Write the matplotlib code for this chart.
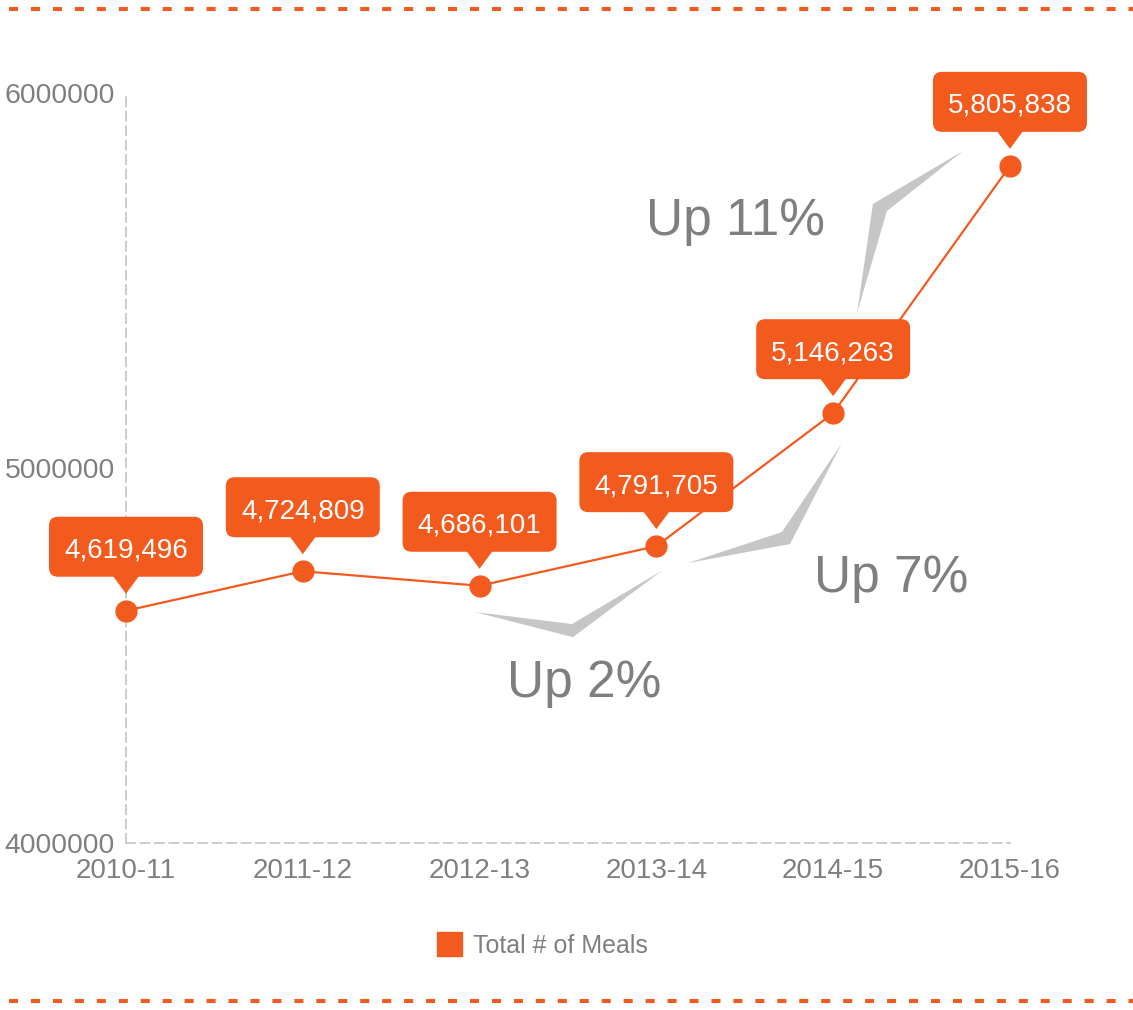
import numpy as np
import matplotlib.pyplot as plt
import matplotlib.transforms as mtransforms
from matplotlib.patches import FancyBboxPatch, Polygon, Patch
from matplotlib.lines import Line2D

plt.rcParams['font.family'] = ['Liberation Sans', 'DejaVu Sans']

years = ['2010-11', '2011-12', '2012-13', '2013-14', '2014-15', '2015-16']
meals = [4619496, 4724809, 4686101, 4791705, 5146263, 5805838]
y_ticks = [4000000, 5000000, 6000000]

# growth notes: text, where the text sits (x, y), outline of the grey wedge
note_text = ['Up 2%', 'Up 7%', 'Up 11%']
note_pos = [(2.59, 4389000), (4.33, 4669000), (3.45, 5621000)]
note_wedge = [
    [(1.974, 4616000), (2.528, 4549000), (3.037, 4728000), (2.523, 4584000)],
    [(3.179, 4746700), (3.756, 4797300), (4.050, 5066700), (3.710, 4829300)],
    [(4.135, 5413300), (4.225, 5704000), (4.734, 5845300), (4.304, 5685300)],
]

orange = '#F35A1E'
grey_txt = '#7f7f7f'
grey_line = '#c8c8c8'
grey_wedge = '#c6c6c6'

fig = plt.figure(figsize=(11.33, 10.10), dpi=100)
ax = fig.add_axes([0.1112, 0.1653, 0.7802, 0.7426])
x = np.arange(len(years))

ax.plot(x, meals, color=orange, lw=1.6, marker='o', ms=15, zorder=5, clip_on=False)

# value callouts (offsets in pixels from each point)
for xi, v in zip(x, meals):
    tr = mtransforms.Affine2D() + mtransforms.ScaledTranslation(xi, v, ax.transData)
    box = FancyBboxPatch((-69, 42), 138, 44, boxstyle='round,pad=8,rounding_size=9',
                         transform=tr, facecolor=orange, edgecolor='none',
                         zorder=4, clip_on=False)
    ax.add_patch(box)
    tri = Polygon([(-14, 36), (14, 36), (0, 17)], closed=True, transform=tr,
                  facecolor=orange, edgecolor='none', zorder=4, clip_on=False)
    ax.add_patch(tri)
    ax.text(0, 53, f'{v:,}', transform=tr, ha='center', va='baseline',
            color='white', fontsize=20, zorder=6, clip_on=False)

for txt, pos, wedge in zip(note_text, note_pos, note_wedge):
    ax.add_patch(Polygon(wedge, closed=True, facecolor=grey_wedge,
                         edgecolor='none', zorder=2, clip_on=False))
    ax.text(pos[0], pos[1], txt, ha='center', va='baseline', color=grey_txt,
            fontsize=37, zorder=3)

ax.set_xlim(0, 5)
ax.set_ylim(4000000, 6000000)
ax.set_xticks(x)
ax.set_xticklabels(years)
ax.set_yticks(y_ticks)
ax.set_yticklabels([str(t) for t in y_ticks])
ax.tick_params(axis='x', length=0, pad=11, labelsize=20, labelcolor=grey_txt)
ax.tick_params(axis='y', length=0, pad=8, labelsize=20.4, labelcolor=grey_txt)

for s in ['top', 'right']:
    ax.spines[s].set_visible(False)
for s in ['left', 'bottom']:
    ax.spines[s].set_color(grey_line)
    ax.spines[s].set_linewidth(1.3)
    ax.spines[s].set_linestyle((0, (5, 3)))

handles = [Patch(facecolor=orange, edgecolor=orange, label='Total # of Meals')]
fig.legend(handles=handles, loc='center', bbox_to_anchor=(0.479, 0.0644),
           frameon=False, fontsize=18, handlelength=1.0, handleheight=1.1,
           handletextpad=0.45, labelcolor=grey_txt)

# dashed orange borders top and bottom
for yy in [0.9907, 0.0085]:
    fig.add_artist(Line2D([0.008, 1.0], [yy, yy], transform=fig.transFigure,
                          color=orange, lw=2.9, linestyle=(0, (2.25, 3.2))))

fig.savefig('out.png', dpi=100, facecolor='white')
